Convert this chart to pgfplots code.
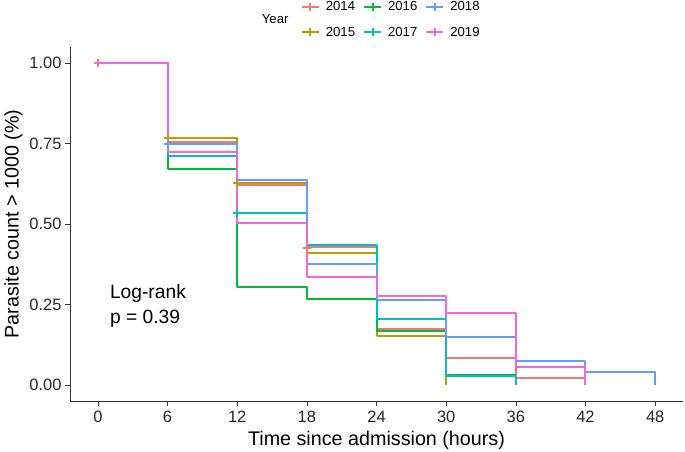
\documentclass[border=0pt]{standalone}
\usepackage{pgfplots}
\pgfplotsset{compat=1.18}
\usepackage{fontspec}
\setmainfont{Liberation Sans}
\definecolor{c14}{HTML}{F8766D}
\definecolor{c15}{HTML}{B79F00}
\definecolor{c16}{HTML}{00BA38}
\definecolor{c17}{HTML}{00BFC4}
\definecolor{c18}{HTML}{619CFF}
\definecolor{c19}{HTML}{F564E3}
\begin{document}
\begin{tikzpicture}
\begin{axis}[
  scale only axis, width=613bp, height=354bp,
  xmin=-2.4, xmax=50.4, ymin=-0.05, ymax=1.05,
  axis x line=bottom, axis y line=left,
  axis line style={-, line width=0.6bp, black!80},
  xtick={0,6,12,18,24,30,36,42,48},
  xticklabels={0,6,12,18,24,30,36,42,48},
  ytick={0,0.25,0.5,0.75,1},
  yticklabels={0.00,0.25,0.50,0.75,1.00},
  tick align=outside, major tick length=5bp,
  tick style={black!80, line width=0.6bp},
  ticklabel style={font=\fontsize{16.5}{16.5}\selectfont, text=black!85},
  xticklabel style={yshift=-1.5bp},
  xlabel={Time since admission (hours)},
  ylabel={Parasite count > 1000 (\%)},
  label style={font=\fontsize{19.8}{19.8}\selectfont},
  xlabel style={yshift=-2bp},
  clip=false,
  legend columns=3,
  legend style={draw=none, fill=none, at={(axis description cs:0.524,1.078)}, anchor=center,
    font=\fontsize{13.2}{13.2}\selectfont,
    /tikz/every odd column/.append style={column sep=4bp},
    /tikz/every even column/.append style={column sep=6bp}, row sep=11bp},
  every axis plot/.append style={line width=2bp, line join=round},
]
\addlegendimage{c14, mark=+, mark size=4bp}\addlegendentry{2014}
\addlegendimage{c16, mark=+, mark size=4bp}\addlegendentry{2016}
\addlegendimage{c18, mark=+, mark size=4bp}\addlegendentry{2018}
\addlegendimage{c15, mark=+, mark size=4bp}\addlegendentry{2015}
\addlegendimage{c17, mark=+, mark size=4bp}\addlegendentry{2017}
\addlegendimage{c19, mark=+, mark size=4bp}\addlegendentry{2019}

\addplot[c14, const plot, forget plot] coordinates {(0,1)(6,0.756)(12,0.621)(18,0.427)(24,0.174)(30,0.085)(36,0.023)(42,0.023)};
\addplot[c15, const plot, forget plot] coordinates {(0,1)(6,0.768)(12,0.628)(18,0.409)(24,0.151)(30,0)};
\addplot[c16, const plot, forget plot] coordinates {(0,1)(6,0.670)(12,0.305)(18,0.267)(24,0.169)(30,0.032)(36,0.032)};
\addplot[c17, const plot, forget plot] coordinates {(0,1)(6,0.710)(12,0.535)(18,0.434)(24,0.205)(30,0.028)(36,0)};
\addplot[c18, const plot, forget plot] coordinates {(0,1)(6,0.750)(12,0.638)(18,0.377)(24,0.265)(30,0.150)(36,0.0745)(42,0.040)(48,0)};
\addplot[c19, const plot, forget plot] coordinates {(0,1)(6,0.723)(12,0.503)(18,0.335)(24,0.277)(30,0.224)(36,0.055)(42,0)};

\addplot[c14, only marks, mark=+, mark size=4bp, forget plot] coordinates {(18,0.424)};
\addplot[c15, only marks, mark=+, mark size=4bp, forget plot] coordinates {(6,0.768)(12,0.628)};
\addplot[c17, only marks, mark=+, mark size=4bp, forget plot] coordinates {(12,0.535)};
\addplot[c18, only marks, mark=+, mark size=4bp, forget plot] coordinates {(6,0.750)};
\addplot[c19, only marks, mark=+, mark size=4bp, forget plot] coordinates {(0,1)};

\node[anchor=base west, inner sep=0, font=\fontsize{19.3}{19.3}\selectfont] at (axis cs:1.03,0.269) {Log-rank};
\node[anchor=base west, inner sep=0, font=\fontsize{19.3}{19.3}\selectfont] at (axis cs:1.03,0.1915) {p = 0.39};
\node[anchor=base west, inner sep=0, font=\fontsize{13.2}{13.2}\selectfont] at (axis description cs:0.3127,1.067) {Year};
\end{axis}
\pgfresetboundingbox
\useasboundingbox (-70bp,-51bp) rectangle (615bp,401bp);
\end{tikzpicture}
\end{document}
